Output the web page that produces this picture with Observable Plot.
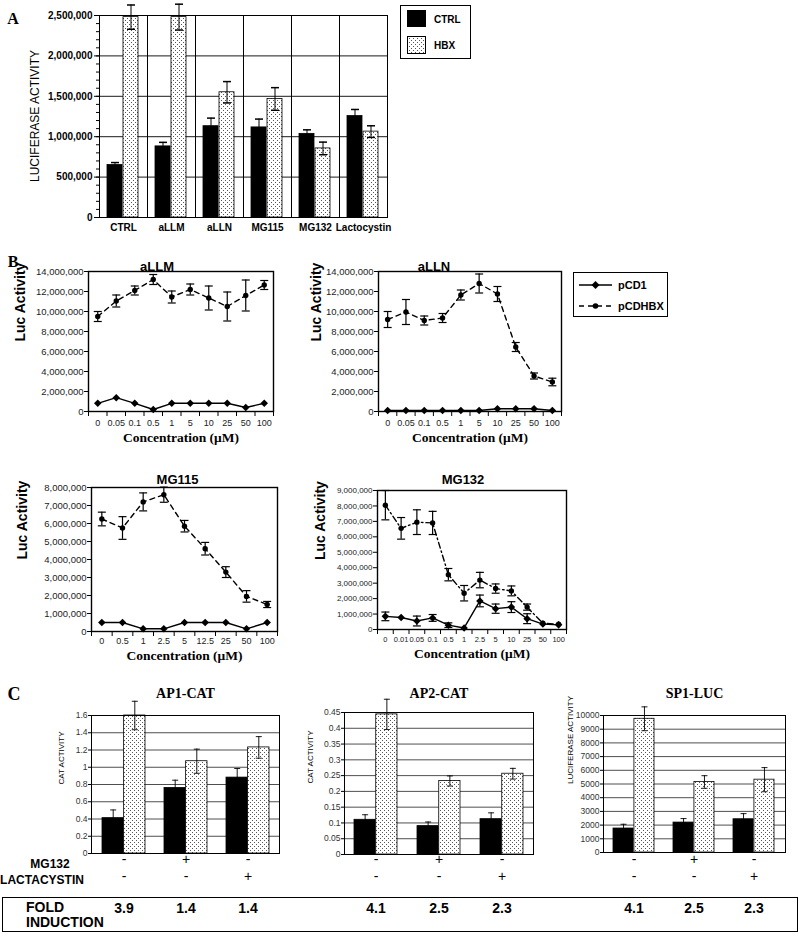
<!DOCTYPE html>
<html><head><meta charset="utf-8">
<script src="https://cdn.jsdelivr.net/npm/d3@7"></script>
<script src="https://cdn.jsdelivr.net/npm/@observablehq/plot@0.6"></script>
<style>
body{margin:0;background:#fff;}
#root{position:relative;width:800px;height:940px;overflow:hidden;font-family:"Liberation Sans",Arial,Helvetica,sans-serif;color:#000;background:#fff;}
.abs{position:absolute;}
.t{position:absolute;white-space:nowrap;transform:translate(-50%,-50%);line-height:1;}
</style></head><body>
<svg width="0" height="0" style="position:absolute">
<defs><pattern id="dots" width="4" height="4" patternUnits="userSpaceOnUse">
<rect width="4" height="4" fill="#fff"/><rect x="0" y="0" width="1" height="1" fill="#555"/><rect x="2" y="2" width="1" height="1" fill="#555"/></pattern></defs></svg>
<div id="root"></div>
<script>
// ---------------- DATA ----------------
// Panel A
const aGroups = ["CTRL","aLLM","aLLN","MG115","MG132","Lactocystin"];
const aSeries = ["CTRL","HBX"];
const aCtrl    = [650000, 880000, 1130000, 1115000, 1035000, 1255000];
const aCtrlErr = [30000, 50000, 100000, 103000, 50000, 82000];
const aHbx     = [2480000, 2480000, 1550000, 1467000, 855000, 1063000];
const aHbxErr  = [150000, 160000, 132000, 140000, 78000, 72000];
const aTicks   = [0, 500000, 1000000, 1500000, 2000000, 2500000];

// Panel B
const concLLM = ["0","0.05","0.1","0.5","1","5","10","25","50","100"];
const llmHbx    = [9500000, 11050000, 12100000, 13200000, 11450000, 12200000, 11350000, 10500000, 11600000, 12650000];
const llmHbxErr = [500000, 600000, 450000, 500000, 600000, 550000, 1200000, 1450000, 1550000, 450000];
const llmCd1    = [820000, 1380000, 820000, 200000, 820000, 820000, 820000, 820000, 400000, 820000];

const concLLN = ["0","0.05","0.1","0.5","1","5","10","25","50","100"];
const llnHbx    = [9200000, 9950000, 9100000, 9350000, 11650000, 12800000, 11750000, 6450000, 3550000, 2950000];
const llnHbxErr = [800000, 1250000, 450000, 450000, 500000, 950000, 750000, 450000, 300000, 380000];
const llnCd1    = [100000, 100000, 100000, 100000, 100000, 100000, 280000, 280000, 280000, 100000];

const conc115 = ["0","0.5","1","2.5","5","12.5","25","50","100"];
const m115Hbx    = [6250000, 5750000, 7200000, 7600000, 5850000, 4600000, 3300000, 1950000, 1500000];
const m115HbxErr = [380000, 630000, 500000, 420000, 320000, 350000, 300000, 320000, 170000];
const m115Cd1    = [500000, 500000, 150000, 150000, 500000, 500000, 500000, 150000, 500000];

const conc132 = ["0","0.01","0.05","0.1","0.5","1","2.5","5","10","25","50","100"];
const m132Hbx    = [8050000, 6550000, 6950000, 6900000, 3550000, 2350000, 3200000, 2650000, 2500000, 1450000, 400000, 350000];
const m132HbxErr = [950000, 700000, 800000, 750000, 400000, 500000, 500000, 300000, 320000, 200000, 0, 0];
const m132Cd1    = [850000, 780000, 550000, 750000, 280000, 100000, 1850000, 1350000, 1450000, 700000, 350000, 300000];
const m132Cd1Err = [280000, 0, 320000, 220000, 150000, 0, 380000, 300000, 350000, 320000, 0, 0];

const ticks14M = [0,2000000,4000000,6000000,8000000,10000000,12000000,14000000];
const ticks8M  = [0,1000000,2000000,3000000,4000000,5000000,6000000,7000000,8000000];
const ticks9M  = [0,1000000,2000000,3000000,4000000,5000000,6000000,7000000,8000000,9000000];

// Panel C
const cGroups = ["none","MG132","Lactacystin"];
const mg132Signs = ["-","+","-"];
const lactSigns  = ["-","-","+"];
const ap1Ctrl = [0.41, 0.76, 0.88], ap1CtrlErr = [0.095, 0.09, 0.105];
const ap1Hbx  = [1.60, 1.07, 1.23], ap1HbxErr  = [0.165, 0.14, 0.125];
const ap1Fold = ["3.9","1.4","1.4"];
const ap1Ticks = [0,0.2,0.4,0.6,0.8,1,1.2,1.4,1.6];
const ap2Ctrl = [0.11, 0.09, 0.112], ap2CtrlErr = [0.016, 0.013, 0.02];
const ap2Hbx  = [0.444, 0.233, 0.256], ap2HbxErr = [0.048, 0.016, 0.017];
const ap2Fold = ["4.1","2.5","2.3"];
const ap2Ticks = [0,0.05,0.1,0.15,0.2,0.25,0.3,0.35,0.4,0.45];
const sp1Ctrl = [1750, 2185, 2427], sp1CtrlErr = [310, 290, 410];
const sp1Hbx  = [9760, 5146, 5316], sp1HbxErr = [870, 460, 880];
const sp1Fold = ["4.1","2.5","2.3"];
const sp1Ticks = [0,1000,2000,3000,4000,5000,6000,7000,8000,9000,10000];

// ---------------- HELPERS ----------------
const root = document.getElementById("root");
const FONT = "'Liberation Sans', Arial, Helvetica, sans-serif";
const SERIF = "'Liberation Serif', 'Times New Roman', serif";
const cap = {draw(ctx, size){ const w = Math.sqrt(size/Math.PI); ctx.moveTo(-w,0); ctx.lineTo(w,0); }};
const baseStyle = {background:"transparent", fontFamily:FONT, fontSize:"10px", color:"black", overflow:"visible"};

function place(node, left, top, w){
  const d = document.createElement("div");
  d.className = "abs"; d.style.left = left+"px"; d.style.top = top+"px"; if (w) d.style.width = w+"px";
  d.appendChild(node); root.appendChild(d); return d;
}
function txt(s, cx, cy, css){
  const d = document.createElement("div"); d.className = "t"; d.textContent = s;
  d.style.left = cx+"px"; d.style.top = cy+"px"; Object.assign(d.style, css||{});
  root.appendChild(d); return d;
}

// ---------------- PANEL A ----------------
const aData = aGroups.flatMap((g,i)=>[
  {group:g, series:"CTRL", value:aCtrl[i], err:aCtrlErr[i]},
  {group:g, series:"HBX", value:aHbx[i], err:aHbxErr[i]}
]);
const plotA = Plot.plot({
  width:400, height:240, marginLeft:98, marginRight:13, marginTop:15, marginBottom:23,
  style:baseStyle,
  fx:{domain:aGroups, padding:0},
  x:{domain:aSeries, paddingInner:0.06, paddingOuter:0.45, axis:null},
  y:{domain:[0,2500000]},
  color:{domain:aSeries, range:["black","url(#dots)"]},
  marks:[
    Plot.gridY({ticks:aTicks.slice(1), stroke:"black", strokeOpacity:0.9}),
    Plot.barY(aData, {fx:"group", x:"series", y:"value", fill:"series", stroke:"black", strokeWidth:0.8}),
    Plot.ruleX(aData, {fx:"group", x:"series", y1:d=>d.value-d.err, y2:d=>d.value+d.err, stroke:"black", strokeWidth:1}),
    Plot.dot(aData, {fx:"group", x:"series", y:d=>d.value+d.err, symbol:cap, r:4, stroke:"black", fill:"none"}),
    Plot.dot(aData, {fx:"group", x:"series", y:d=>d.value-d.err, symbol:cap, r:4, stroke:"black", fill:"none"}),
    Plot.frame({stroke:"black"}),
    Plot.axisY({ticks:aTicks, tickFormat:d3.format(","), tickSize:5, tickPadding:2, fontWeight:"bold", fontSize:10, label:null}),
    Plot.axisY({ticks:d3.range(0,2500001,100000), tickSize:3, tickFormat:()=>"", label:null}),
    Plot.axisFx({anchor:"bottom", tickSize:0, tickPadding:6, fontWeight:"bold", fontSize:10, label:null})
  ]
});
place(plotA, 0, 0, 400);
txt("LUCIFERASE ACTIVITY", 35, 116, {transform:"translate(-50%,-50%) rotate(-90deg)", fontSize:"12px"});
txt("A", 13, 19, {fontFamily:SERIF, fontWeight:"bold", fontSize:"16px"});

// legend A
(function(){
  const box = document.createElement("div");
  box.className = "abs";
  Object.assign(box.style, {left:"400px", top:"5px", width:"69px", height:"52px", border:"1px solid #000"});
  box.innerHTML = `<svg width="69" height="52" style="position:absolute;left:0;top:0">
    <rect x="6" y="4" width="19" height="17" fill="black"/>
    <rect x="6.5" y="30.5" width="18" height="17" fill="url(#dots)" stroke="black"/>
    <text x="33" y="16.5" font-family="${FONT}" font-weight="bold" font-size="10">CTRL</text>
    <text x="33" y="43" font-family="${FONT}" font-weight="bold" font-size="10">HBX</text></svg>`;
  root.appendChild(box);
})();

// ---------------- PANEL B ----------------
function dosePlot(c){
  const n = c.conc.length;
  const hb = c.conc.map((k,i)=>({x:i+0.5, v:c.hbx[i], e:c.hbxErr[i]}));
  const cd = c.conc.map((k,i)=>({x:i+0.5, v:c.cd1[i], e:c.cd1Err ? c.cd1Err[i] : 0}));
  const hbE = hb.filter(d=>d.e>0), cdE = cd.filter(d=>d.e>0);
  const errMarks = (arr) => [
    Plot.ruleX(arr, {x:"x", y1:d=>d.v-d.e, y2:d=>d.v+d.e, stroke:"black", strokeWidth:1.2}),
    Plot.dot(arr, {x:"x", y:d=>d.v+d.e, symbol:cap, r:4, stroke:"black", strokeWidth:1.2, fill:"none"}),
    Plot.dot(arr, {x:"x", y:d=>d.v-d.e, symbol:cap, r:4, stroke:"black", strokeWidth:1.2, fill:"none"})
  ];
  return Plot.plot({
    width:c.W, height:c.H, marginLeft:c.mL, marginRight:c.mR, marginTop:c.mT, marginBottom:c.mB,
    style:baseStyle,
    x:{domain:[0,n]},
    y:{domain:[0, c.yTicks[c.yTicks.length-1]]},
    marks:[
      Plot.frame({stroke:"black", strokeWidth:1.4}),
      Plot.line(cd, {x:"x", y:"v", stroke:"black", strokeWidth:1.4}),
      Plot.line(hb, {x:"x", y:"v", stroke:"black", strokeWidth:1.4, strokeDasharray:c.dash}),
      ...errMarks(hbE), ...errMarks(cdE),
      Plot.dot(cd, {x:"x", y:"v", symbol:"diamond2", r:3.4, fill:"black", stroke:"none"}),
      Plot.dot(hb, {x:"x", y:"v", r:2.7, fill:"black", stroke:"none"}),
      Plot.axisY({ticks:c.yTicks, tickFormat:d3.format(","), tickSize:4, tickPadding:1, fontSize:c.yFont, fill:"#222", label:null}),
      Plot.axisX({ticks:d3.range(n+1), tickSize:5, tickFormat:()=>"", label:null}),
      Plot.axisX({ticks:hb.map(d=>d.x), tickSize:0, tickPadding:c.xPad, tickFormat:d=>c.conc[Math.floor(d)], fontSize:c.xFont, fill:"#222", label:null}),
      Plot.text([c.title], {frameAnchor:"top", dx:c.tdx, dy:c.tdy, fontWeight:"bold", fontSize:13}),
      Plot.text(["Concentration (\u03bcM)"], {frameAnchor:"bottom", dy:c.xlDy, fontFamily:SERIF, fontWeight:"bold", fontSize:13.5}),
      Plot.text(["Luc Activity"], {frameAnchor:"left", rotate:-90, dx:c.ylDx, fontWeight:"bold", fontSize:14})
    ]
  });
}
place(dosePlot({conc:concLLM, hbx:llmHbx, hbxErr:llmHbxErr, cd1:llmCd1, yTicks:ticks14M, title:"aLLM", dash:"5,4",
  W:285, H:215, mL:88, mR:12, mT:26, mB:49, yFont:9.5, xFont:9, xPad:8, tdx:-24, tdy:-10, xlDy:30, ylDx:-68}), 0, 245, 285);
place(dosePlot({conc:concLLN, hbx:llnHbx, hbxErr:llnHbxErr, cd1:llnCd1, yTicks:ticks14M, title:"aLLN", dash:"5,4",
  W:285, H:215, mL:88, mR:14, mT:26, mB:49, yFont:9.5, xFont:9, xPad:8, tdx:-36, tdy:-10, xlDy:30, ylDx:-62}), 290, 245, 285);
place(dosePlot({conc:conc115, hbx:m115Hbx, hbxErr:m115HbxErr, cd1:m115Cd1, yTicks:ticks8M, title:"MG115", dash:"5,4",
  W:287, H:216, mL:91, mR:10, mT:27, mB:45, yFont:9.5, xFont:9, xPad:6, tdx:-7, tdy:-13, xlDy:28, ylDx:-69}), 0, 460, 287);
place(dosePlot({conc:conc132, hbx:m132Hbx, hbxErr:m132HbxErr, cd1:m132Cd1, cd1Err:m132Cd1Err, yTicks:ticks9M, title:"MG132", dash:"6,3,1.5,3",
  W:290, H:211, mL:87, mR:14, mT:27, mB:45, yFont:8, xFont:7.5, xPad:7, tdx:-9, tdy:-16, xlDy:28, ylDx:-57}), 290, 463, 290);
txt("B", 13, 262, {fontFamily:SERIF, fontWeight:"bold", fontSize:"16px"});

// legend B
(function(){
  const box = document.createElement("div");
  box.className = "abs";
  Object.assign(box.style, {left:"573px", top:"272px", width:"93px", height:"43px", border:"1px solid #000"});
  box.innerHTML = `<svg width="93" height="43" style="position:absolute;left:0;top:0">
    <line x1="5" y1="12" x2="38" y2="12" stroke="black" stroke-width="1.3"/>
    <path d="M21.5 8 L25.5 12 L21.5 16 L17.5 12Z" fill="black"/>
    <line x1="5" y1="33" x2="38" y2="33" stroke="black" stroke-width="1.3" stroke-dasharray="5,4"/>
    <circle cx="21.5" cy="33" r="2.8" fill="black"/>
    <text x="44" y="16" font-family="${FONT}" font-weight="bold" font-size="11">pCD1</text>
    <text x="44" y="37" font-family="${FONT}" font-weight="bold" font-size="11">pCDHBX</text></svg>`;
  root.appendChild(box);
})();

// ---------------- PANEL C ----------------
function catPlot(c){
  const fw = c.W - c.mL - c.mR, p = 0.31, bw = fw/3*(1-p), off = bw/4;
  const data = cGroups.map((g,i)=>({g, c:c.ctrl[i], ce:c.ctrlErr[i], h:c.hbx[i], he:c.hbxErr[i], s1:mg132Signs[i], s2:lactSigns[i], f:c.fold[i]}));
  return Plot.plot({
    width:c.W, height:c.H, marginLeft:c.mL, marginRight:c.mR, marginTop:c.mT, marginBottom:c.mB,
    style:baseStyle,
    x:{domain:cGroups, paddingInner:p, paddingOuter:p/2, axis:null},
    y:{domain:[0, c.yTicks[c.yTicks.length-1]]},
    marks:[
      Plot.gridY({ticks:c.yTicks, stroke:"#222", strokeOpacity:1, strokeWidth:0.8}),
      Plot.barY(data, {x:"g", y:"c", fill:"black", stroke:"black", strokeWidth:0.8, insetRight:bw/2}),
      Plot.barY(data, {x:"g", y:"h", fill:"url(#dots)", stroke:"black", strokeWidth:0.8, insetLeft:bw/2}),
      Plot.ruleX(data, {x:"g", y1:d=>d.c-d.ce, y2:d=>d.c+d.ce, dx:-off, stroke:"black", strokeWidth:0.9}),
      Plot.dot(data, {x:"g", y:d=>d.c+d.ce, dx:-off, symbol:cap, r:3, stroke:"black", strokeWidth:0.9, fill:"none"}),
      Plot.ruleX(data, {x:"g", y1:d=>d.h-d.he, y2:d=>d.h+d.he, dx:off, stroke:"black", strokeWidth:0.9}),
      Plot.dot(data, {x:"g", y:d=>d.h+d.he, dx:off, symbol:cap, r:3, stroke:"black", strokeWidth:0.9, fill:"none"}),
      Plot.dot(data, {x:"g", y:d=>d.h-d.he, dx:off, symbol:cap, r:3, stroke:"black", strokeWidth:0.9, fill:"none"}),
      Plot.frame({stroke:"black", strokeWidth:1}),
      Plot.axisY({ticks:c.yTicks, tickFormat:c.fmt, tickSize:3, tickPadding:1, fontSize:8.5, fill:"#333", label:null}),
      Plot.text(data, {x:"g", text:"s1", frameAnchor:"bottom", dy:c.bot+10, fontSize:14}),
      Plot.text(data, {x:"g", text:"s2", frameAnchor:"bottom", dy:c.bot+27, fontSize:14}),
      Plot.text(data, {x:"g", text:"f", frameAnchor:"bottom", dy:c.bot+59, fontWeight:"bold", fontSize:14}),
      Plot.text([c.title], {frameAnchor:"top", dy:c.tdy, fontFamily:SERIF, fontWeight:"bold", fontSize:14}),
      Plot.text([c.ylab], {frameAnchor:"left", rotate:-90, dx:c.ylDx, fontSize:8})
    ]
  });
}
const fmtNum = d => String(+d.toFixed(2));
place(catPlot({title:"AP1-CAT", ylab:"CAT ACTIVITY", ctrl:ap1Ctrl, ctrlErr:ap1CtrlErr, hbx:ap1Hbx, hbxErr:ap1HbxErr, fold:ap1Fold, yTicks:ap1Ticks, fmt:fmtNum,
  W:283, H:260, mL:91, mR:4, mT:35, mB:87, bot:0, tdy:-27, ylDx:-30}), 0, 680, 283);
place(catPlot({title:"AP2-CAT", ylab:"CAT ACTIVITY", ctrl:ap2Ctrl, ctrlErr:ap2CtrlErr, hbx:ap2Hbx, hbxErr:ap2HbxErr, fold:ap2Fold, yTicks:ap2Ticks, fmt:fmtNum,
  W:247, H:260, mL:54, mR:4, mT:32, mB:86, bot:-1, tdy:-24, ylDx:-34}), 290, 680, 247);
place(catPlot({title:"SP1-LUC", ylab:"LUCIFERASE ACTIVITY", ctrl:sp1Ctrl, ctrlErr:sp1CtrlErr, hbx:sp1Hbx, hbxErr:sp1HbxErr, fold:sp1Fold, yTicks:sp1Ticks, fmt:d=>String(d),
  W:245, H:260, mL:58, mR:5, mT:35, mB:88, bot:1, tdy:-27, ylDx:-33}), 545, 680, 245);

txt("C", 14, 694, {fontFamily:SERIF, fontWeight:"bold", fontSize:"18px"});
txt("MG132", 50, 864, {fontWeight:"bold", fontSize:"12px"});
txt("LACTACYSTIN", 42, 880, {fontWeight:"bold", fontSize:"12px"});
(function(){
  const box = document.createElement("div");
  box.className = "abs";
  Object.assign(box.style, {left:"2px", top:"897px", width:"794px", height:"33px", border:"1.5px solid #000"});
  root.appendChild(box);
})();
txt("FOLD", 26, 907, {fontWeight:"bold", fontSize:"14px", transform:"translate(0,-50%)"});
txt("INDUCTION", 26, 922, {fontWeight:"bold", fontSize:"14px", transform:"translate(0,-50%)"});
</script>
</body></html>
